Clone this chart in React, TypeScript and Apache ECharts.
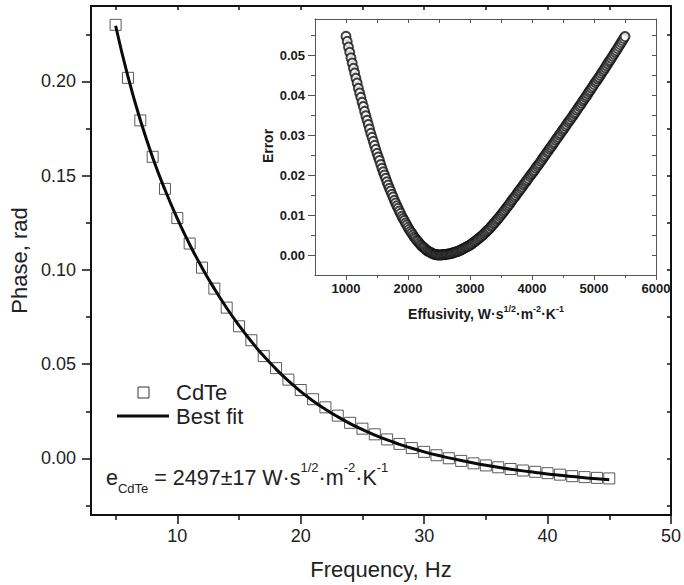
import React, { useEffect, useRef } from "react";
import * as echarts from "echarts";

// ---- Main panel data: phase vs frequency ----
const frequencyHz = [5, 6, 7, 8, 9, 10, 11, 12, 13, 14, 15, 16, 17, 18, 19, 20, 21, 22, 23, 24, 25, 26, 27, 28, 29, 30, 31, 32, 33, 34, 35, 36, 37, 38, 39, 40, 41, 42, 43, 44, 45];
const phaseRad = [0.2300, 0.2019, 0.1793, 0.1600, 0.1430, 0.1275, 0.1140, 0.1012, 0.0901, 0.0800, 0.0701, 0.0627, 0.0543, 0.0479, 0.0418, 0.0363, 0.0314, 0.0271, 0.0227, 0.0189, 0.0158, 0.0128, 0.0101, 0.0077, 0.0055, 0.0035, 0.0017, 0.0001, -0.0013, -0.0026, -0.0037, -0.0047, -0.0056, -0.0064, -0.0071, -0.0078, -0.0086, -0.0094, -0.0099, -0.0103, -0.0106];
const fitRad = [0.2295, 0.2025, 0.1795, 0.1597, 0.1425, 0.1272, 0.1135, 0.1012, 0.0900, 0.0798, 0.0705, 0.0620, 0.0543, 0.0474, 0.0411, 0.0355, 0.0305, 0.0261, 0.0221, 0.0185, 0.0153, 0.0124, 0.0098, 0.0075, 0.0054, 0.0035, 0.0018, 0.0003, -0.0011, -0.0024, -0.0036, -0.0047, -0.0057, -0.0066, -0.0074, -0.0082, -0.0089, -0.0096, -0.0102, -0.0108, -0.0113];

const mainXTicks = [10, 20, 30, 40, 50];
const mainXMinor = [5, 15, 25, 35, 45];
const mainYTicks = [0, 0.05, 0.1, 0.15, 0.2];
const mainYMinor = [-0.025, 0.025, 0.075, 0.125, 0.175, 0.225];

// ---- Inset data: error vs effusivity ----
const effusivityStart = 1000;
const effusivityStep = 20;
const errorValues = [
  0.0547, 0.0534, 0.0520, 0.0507, 0.0493,
  0.0480, 0.0467, 0.0455, 0.0442, 0.0430,
  0.0417, 0.0405, 0.0394, 0.0382, 0.0371,
  0.0359, 0.0348, 0.0337, 0.0326, 0.0315,
  0.0304, 0.0294, 0.0284, 0.0274, 0.0264,
  0.0254, 0.0245, 0.0236, 0.0226, 0.0217,
  0.0208, 0.0200, 0.0192, 0.0183, 0.0175,
  0.0167, 0.0160, 0.0152, 0.0145, 0.0137,
  0.0130, 0.0123, 0.0117, 0.0110, 0.0104,
  0.0097, 0.0091, 0.0086, 0.0080, 0.0075,
  0.0069, 0.0064, 0.0059, 0.0055, 0.0050,
  0.0045, 0.0041, 0.0037, 0.0034, 0.0030,
  0.0026, 0.0023, 0.0020, 0.0018, 0.0015,
  0.0012, 0.0010, 0.0008, 0.0007, 0.0005,
  0.0003, 0.0002, 0.0001, 0.0001, 0.0000,
  0.0000, 0.0000, 0.0000, 0.0001, 0.0001,
  0.0001, 0.0002, 0.0002, 0.0003, 0.0003,
  0.0004, 0.0005, 0.0006, 0.0007, 0.0008,
  0.0009, 0.0010, 0.0012, 0.0013, 0.0015,
  0.0016, 0.0018, 0.0020, 0.0021, 0.0023,
  0.0025, 0.0027, 0.0029, 0.0032, 0.0034,
  0.0036, 0.0039, 0.0041, 0.0044, 0.0046,
  0.0049, 0.0052, 0.0055, 0.0058, 0.0061,
  0.0064, 0.0067, 0.0071, 0.0074, 0.0078,
  0.0081, 0.0085, 0.0089, 0.0092, 0.0096,
  0.0100, 0.0104, 0.0108, 0.0112, 0.0116,
  0.0120, 0.0124, 0.0128, 0.0133, 0.0137,
  0.0141, 0.0145, 0.0149, 0.0154, 0.0158,
  0.0162, 0.0166, 0.0170, 0.0175, 0.0179,
  0.0183, 0.0187, 0.0191, 0.0196, 0.0200,
  0.0204, 0.0208, 0.0212, 0.0217, 0.0221,
  0.0225, 0.0229, 0.0234, 0.0238, 0.0243,
  0.0247, 0.0251, 0.0256, 0.0260, 0.0265,
  0.0269, 0.0273, 0.0278, 0.0282, 0.0287,
  0.0291, 0.0295, 0.0300, 0.0304, 0.0309,
  0.0313, 0.0317, 0.0322, 0.0326, 0.0331,
  0.0335, 0.0339, 0.0344, 0.0348, 0.0353,
  0.0357, 0.0362, 0.0366, 0.0371, 0.0375,
  0.0380, 0.0385, 0.0389, 0.0394, 0.0398,
  0.0403, 0.0408, 0.0412, 0.0417, 0.0421,
  0.0426, 0.0431, 0.0435, 0.0440, 0.0444,
  0.0449, 0.0454, 0.0459, 0.0463, 0.0468,
  0.0473, 0.0478, 0.0483, 0.0487, 0.0492,
  0.0497, 0.0502, 0.0507, 0.0511, 0.0516,
  0.0521, 0.0526, 0.0531, 0.0536, 0.0541,
  0.0546,
];

const insetXTicks = [1000, 2000, 3000, 4000, 5000, 6000];
const insetXMinor = [1500, 2500, 3500, 4500, 5500];
const insetXAll = [1000, 1500, 2000, 2500, 3000, 3500, 4000, 4500, 5000, 5500];
const insetYTicks = [0, 0.01, 0.02, 0.03, 0.04, 0.05];
const insetYMinor = [0.005, 0.015, 0.025, 0.035, 0.045, 0.055];

const FONT = "'Liberation Sans', Arial, Helvetica, sans-serif";

export default function App() {
  const ref = useRef<HTMLDivElement>(null);

  useEffect(() => {
    if (!ref.current) return;
    const chart = echarts.init(ref.current, undefined, { renderer: "svg" });

    const mainPts = frequencyHz.map((f, i) => [f, phaseRad[i]]);
    const fitPts = frequencyHz.map((f, i) => [f, fitRad[i]]);
    const errPts = errorValues.map((v, i) => [effusivityStart + i * effusivityStep, v]);

    const black = "#111";
    const insetLine = "#555";
    const noSplit = { show: false };
    const mainLine = { show: true, onZero: false, lineStyle: { color: black, width: 2 } };
    const insetAxisLine = { show: true, onZero: false, lineStyle: { color: insetLine, width: 1 } };
    const hiddenLine = { show: false, onZero: false };

    const option: any = {
      animation: false,
      backgroundColor: "#fff",
      grid: [
        { left: 89, top: 6, right: 10, bottom: 60, containLabel: false },
        {
          left: 315, top: 19, right: 28, bottom: 310, containLabel: false,
          show: true, backgroundColor: "#fff", borderWidth: 0, z: 5,
        },
      ],
      xAxis: [
        {
          gridIndex: 0, type: "value", min: 3, max: 50, position: "bottom",
          axisLine: mainLine,
          axisTick: { show: true, customValues: mainXTicks, length: 9, lineStyle: { color: black, width: 1.5 } },
          axisLabel: { show: true, customValues: mainXTicks, fontSize: 18, color: "#222", fontFamily: FONT, margin: 12 },
          splitLine: noSplit,
          name: "Frequency, Hz", nameLocation: "middle", nameGap: 43,
          nameTextStyle: { fontSize: 22, color: "#222", fontFamily: FONT },
        },
        {
          gridIndex: 0, type: "value", min: 3, max: 50, position: "bottom",
          axisLine: hiddenLine,
          axisTick: { show: true, customValues: mainXMinor, length: 5, lineStyle: { color: black, width: 1.5 } },
          axisLabel: { show: false },
          splitLine: noSplit,
        },
        {
          gridIndex: 0, type: "value", min: 3, max: 50, position: "top",
          axisLine: mainLine,
          axisTick: { show: true, inside: true, customValues: [...mainXMinor, ...mainXTicks], length: 4, lineStyle: { color: black, width: 1.5 } },
          axisLabel: { show: false },
          splitLine: noSplit,
        },
        {
          gridIndex: 1, type: "value", min: 500, max: 6000, position: "bottom",
          axisLine: insetAxisLine,
          axisTick: { show: true, customValues: insetXTicks, length: 5, lineStyle: { color: insetLine, width: 1 } },
          axisLabel: {
            show: true, customValues: insetXTicks, fontSize: 13, fontWeight: "bold", color: "#1a1a1a", fontFamily: FONT, margin: 7,
            formatter: (v: number) => String(Math.round(v)),
          },
          splitLine: noSplit, z: 6,
        },
        {
          gridIndex: 1, type: "value", min: 500, max: 6000, position: "bottom",
          axisLine: hiddenLine,
          axisTick: { show: true, customValues: insetXMinor, length: 3, lineStyle: { color: insetLine, width: 1 } },
          axisLabel: { show: false },
          splitLine: noSplit, z: 6,
        },
        {
          gridIndex: 1, type: "value", min: 500, max: 6000, position: "top",
          axisLine: insetAxisLine,
          axisTick: { show: true, inside: true, customValues: insetXAll, length: 4, lineStyle: { color: insetLine, width: 1 } },
          axisLabel: { show: false },
          splitLine: noSplit, z: 6,
        },
      ],
      yAxis: [
        {
          gridIndex: 0, type: "value", min: -0.03, max: 0.24, position: "left",
          axisLine: mainLine,
          axisTick: { show: true, customValues: mainYTicks, length: 9, lineStyle: { color: black, width: 1.5 } },
          axisLabel: {
            show: true, customValues: mainYTicks, fontSize: 18, color: "#222", fontFamily: FONT, margin: 15,
            formatter: (v: number) => v.toFixed(2),
          },
          splitLine: noSplit,
          name: "Phase, rad", nameLocation: "middle", nameGap: 54, nameRotate: 90,
          nameTextStyle: { fontSize: 22, color: "#222", fontFamily: FONT },
        },
        {
          gridIndex: 0, type: "value", min: -0.03, max: 0.24, position: "left",
          axisLine: hiddenLine,
          axisTick: { show: true, customValues: mainYMinor, length: 5, lineStyle: { color: black, width: 1.5 } },
          axisLabel: { show: false },
          splitLine: noSplit,
        },
        {
          gridIndex: 0, type: "value", min: -0.03, max: 0.24, position: "right",
          axisLine: mainLine,
          axisTick: { show: true, inside: true, customValues: [...mainYMinor, ...mainYTicks], length: 4, lineStyle: { color: black, width: 1.5 } },
          axisLabel: { show: false },
          splitLine: noSplit,
        },
        {
          gridIndex: 1, type: "value", min: -0.005, max: 0.059, position: "left",
          axisLine: insetAxisLine,
          axisTick: { show: true, customValues: insetYTicks, length: 7, lineStyle: { color: insetLine, width: 1 } },
          axisLabel: {
            show: true, customValues: insetYTicks, fontSize: 13, fontWeight: "bold", color: "#1a1a1a", fontFamily: FONT, margin: 10,
            formatter: (v: number) => v.toFixed(2),
          },
          splitLine: noSplit, z: 6,
        },
        {
          gridIndex: 1, type: "value", min: -0.005, max: 0.059, position: "left",
          axisLine: hiddenLine,
          axisTick: { show: true, customValues: insetYMinor, length: 4, lineStyle: { color: insetLine, width: 1 } },
          axisLabel: { show: false },
          splitLine: noSplit, z: 6,
        },
        {
          gridIndex: 1, type: "value", min: -0.005, max: 0.059, position: "right",
          axisLine: insetAxisLine,
          axisTick: { show: true, inside: true, customValues: [...insetYTicks, ...insetYMinor], length: 4, lineStyle: { color: insetLine, width: 1 } },
          axisLabel: { show: false },
          splitLine: noSplit, z: 6,
        },
      ],
      series: [
        {
          name: "CdTe", type: "scatter", xAxisIndex: 0, yAxisIndex: 0,
          data: mainPts, symbol: "rect", symbolSize: 11,
          itemStyle: { color: "rgba(255,255,255,0)", borderColor: "#333", borderWidth: 1 },
          z: 2,
        },
        {
          name: "Best fit", type: "line", xAxisIndex: 0, yAxisIndex: 0,
          data: fitPts, smooth: true, showSymbol: false, symbol: "none",
          lineStyle: { color: "#0a0a0a", width: 3 },
          z: 3,
        },
        {
          name: "Error", type: "scatter", xAxisIndex: 3, yAxisIndex: 3,
          data: errPts, symbol: "circle", symbolSize: 9,
          itemStyle: { color: "#fff", borderColor: "#111", borderWidth: 2 },
          z: 7,
        },
      ],
      graphic: [
        { type: "rect", shape: { x: 138, y: 387, width: 11, height: 11 }, style: { fill: "none", stroke: "#333", lineWidth: 1 }, z: 10 },
        { type: "text", x: 176, y: 392, style: { text: "CdTe", fontSize: 22, fill: "#222", fontFamily: FONT, textVerticalAlign: "middle" }, z: 10 },
        { type: "line", shape: { x1: 117, y1: 416, x2: 169, y2: 416 }, style: { stroke: "#0a0a0a", lineWidth: 3 }, z: 10 },
        { type: "text", x: 176, y: 416, style: { text: "Best fit", fontSize: 22, fill: "#222", fontFamily: FONT, textVerticalAlign: "middle" }, z: 10 },
        {
          type: "text", x: 106, y: 478, z: 10,
          style: {
            text: "{m|e}{sub|CdTe}{m| = 2497±17 W·s}{sup|1/2}{m|·m}{sup|-2}{m|·K}{sup|-1}",
            fontFamily: FONT, fill: "#222", textVerticalAlign: "middle",
            rich: {
              m: { fontSize: 21.5, lineHeight: 34, fill: "#222", fontFamily: FONT },
              sub: { fontSize: 13, lineHeight: 13, verticalAlign: "bottom", fill: "#222", fontFamily: FONT },
              sup: { fontSize: 13, lineHeight: 13, verticalAlign: "top", fill: "#222", fontFamily: FONT },
            },
          },
        },
        {
          type: "text", x: 268, y: 146, rotation: Math.PI / 2, z: 10,
          style: { text: "Error", fontSize: 14, fontWeight: "bold", fill: "#1a1a1a", fontFamily: FONT, textAlign: "center", textVerticalAlign: "middle" },
        },
        {
          type: "text", x: 486, y: 314, z: 10,
          style: {
            text: "{m|Effusivity, W·s}{sup|1/2}{m|·m}{sup|-2}{m|·K}{sup|-1}",
            fontFamily: FONT, fill: "#1a1a1a", textAlign: "center", textVerticalAlign: "middle",
            rich: {
              m: { fontSize: 14, fontWeight: "bold", lineHeight: 20, fill: "#1a1a1a", fontFamily: FONT },
              sup: { fontSize: 9, fontWeight: "bold", lineHeight: 9, verticalAlign: "top", fill: "#1a1a1a", fontFamily: FONT },
            },
          },
        },
      ],
    };

    chart.setOption(option);
    return () => chart.dispose();
  }, []);

  return <div ref={ref} style={{ width: 684, height: 585, position: "absolute", left: 0, top: 0 }} />;
}
